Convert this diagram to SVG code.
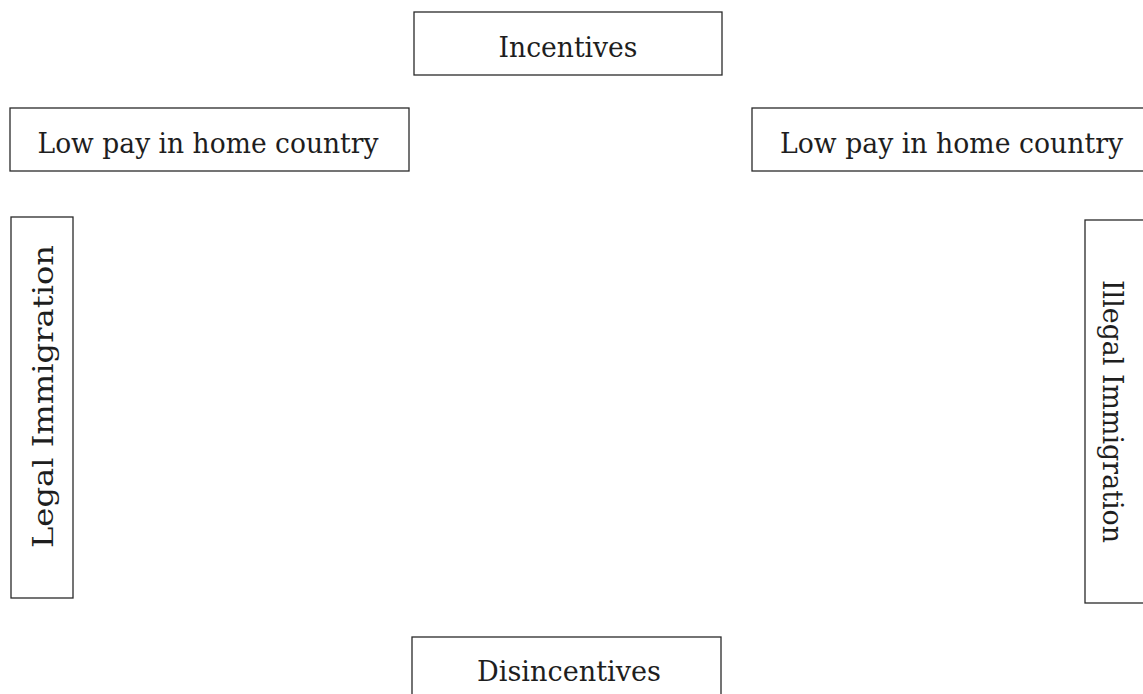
<svg xmlns="http://www.w3.org/2000/svg" width="1143" height="694" viewBox="0 0 1143 694">
<style>
.box{fill:#fff;stroke:#2a2a2a;stroke-width:1.3}
.lbl{font-family:"DejaVu Serif","Liberation Serif",serif;font-size:27px;fill:#1e1e1e;text-anchor:middle}
</style>
<rect width="1143" height="694" fill="#fff"/>
<g id="connectors"></g>
<g id="incentives">
<rect class="box" x="414" y="12" width="308" height="63"/>
<text class="lbl" x="568" y="57" textLength="139" lengthAdjust="spacingAndGlyphs">Incentives</text>
</g>
<g id="lowpay-left">
<rect class="box" x="10" y="108" width="399" height="63"/>
<text class="lbl" x="208" y="152.5" textLength="341" lengthAdjust="spacingAndGlyphs">Low pay in home country</text>
</g>
<g id="lowpay-right">
<rect class="box" x="752" y="108" width="400" height="63"/>
<text class="lbl" x="951.5" y="152.5" textLength="343" lengthAdjust="spacingAndGlyphs">Low pay in home country</text>
</g>
<g id="legal">
<rect class="box" x="11" y="217" width="62" height="381"/>
<text class="lbl" transform="translate(52.5,396.5) rotate(-90)" x="0" y="0" textLength="303" lengthAdjust="spacingAndGlyphs">Legal Immigration</text>
</g>
<g id="illegal">
<rect class="box" x="1085" y="220" width="100" height="383"/>
<text class="lbl" transform="translate(1102.5,411.5) rotate(90)" x="0" y="0" textLength="263" lengthAdjust="spacingAndGlyphs">Illegal Immigration</text>
</g>
<g id="disincentives">
<rect class="box" x="412" y="637" width="309" height="100"/>
<text class="lbl" x="569" y="681" textLength="184" lengthAdjust="spacingAndGlyphs">Disincentives</text>
</g>
</svg>
